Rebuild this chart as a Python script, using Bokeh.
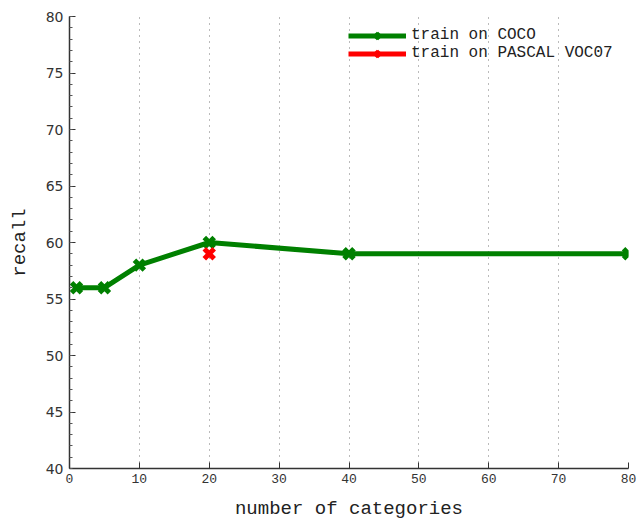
from bokeh.plotting import figure
from bokeh.models import FixedTicker, Legend, LegendItem
from bokeh.embed import file_html
from bokeh.resources import INLINE

coco_x = [1, 5, 10, 20, 40, 80]
coco_y = [56, 56, 58, 60, 59, 59]
voc_x = [20]
voc_y = [59]
x_ticks = [0, 10, 20, 30, 40, 50, 60, 70, 80]
y_ticks = [40, 45, 50, 55, 60, 65, 70, 75, 80]

MONO = "Liberation Mono"

p = figure(width=643, height=522, x_range=(0, 80), y_range=(40, 80),
           output_backend="svg", toolbar_location=None,
           min_border_left=69, min_border_right=15, min_border_top=16, min_border_bottom=20)
p.outline_line_color = None
p.background_fill_color = "white"

l1 = p.line(coco_x, coco_y, color="green", line_width=5)
m1 = p.scatter(coco_x, coco_y, marker="x", size=14, line_width=5, color="green")
l2 = p.line(voc_x, voc_y, color="red", line_width=5)
m2 = p.scatter(voc_x, voc_y, marker="x", size=14, line_width=5, color="red")

# grid
p.xgrid.ticker = FixedTicker(ticks=x_ticks)
p.xgrid.grid_line_color = "#777777"
p.xgrid.grid_line_dash = "1 5"
p.xgrid.grid_line_width = 1
p.ygrid.grid_line_color = None

for ax in (p.xaxis, p.yaxis):
    ax.axis_line_color = "#333333"
    ax.axis_line_width = 1.5
    ax.major_tick_in = 6
    ax.major_tick_out = 0
    ax.major_tick_line_color = "#333333"
    ax.minor_tick_line_color = "#555555"
    ax.axis_label_text_font = MONO
    ax.axis_label_text_font_style = "normal"
    ax.axis_label_text_font_size = "19px"
    ax.axis_label_text_color = "#222222"
    ax.major_label_text_color = "#333333"

p.xaxis.ticker = FixedTicker(ticks=x_ticks)
p.yaxis.ticker = FixedTicker(ticks=y_ticks, minor_ticks=list(range(40, 81)))
p.xaxis.minor_tick_line_color = None
p.yaxis.minor_tick_in = 3
p.yaxis.minor_tick_out = 0
p.xaxis.major_label_text_font = MONO
p.xaxis.major_label_text_font_size = "13px"
p.yaxis.major_label_text_font = "DejaVu Sans"
p.yaxis.major_label_text_font_size = "14px"
p.xaxis.major_label_standoff = 5
p.yaxis.major_label_standoff = 6
p.xaxis.axis_label = "number of categories"
p.yaxis.axis_label = "recall"
p.xaxis.axis_label_standoff = 12
p.yaxis.axis_label_standoff = 12

legend = Legend(items=[LegendItem(label="train on COCO", renderers=[l1, m1]),
                       LegendItem(label="train on PASCAL VOC07", renderers=[l2, m2])],
                location=(279, 406))
legend.border_line_color = None
legend.background_fill_alpha = 0
legend.label_text_font = MONO
legend.label_text_font_size = "16px"
legend.label_text_color = "#222222"
legend.glyph_width = 58
legend.glyph_height = 17
legend.label_height = 17
legend.spacing = 0
legend.padding = 4
legend.label_standoff = 5
legend.margin = 0
p.add_layout(legend)

open("out.html", "w").write(file_html(p, INLINE))
